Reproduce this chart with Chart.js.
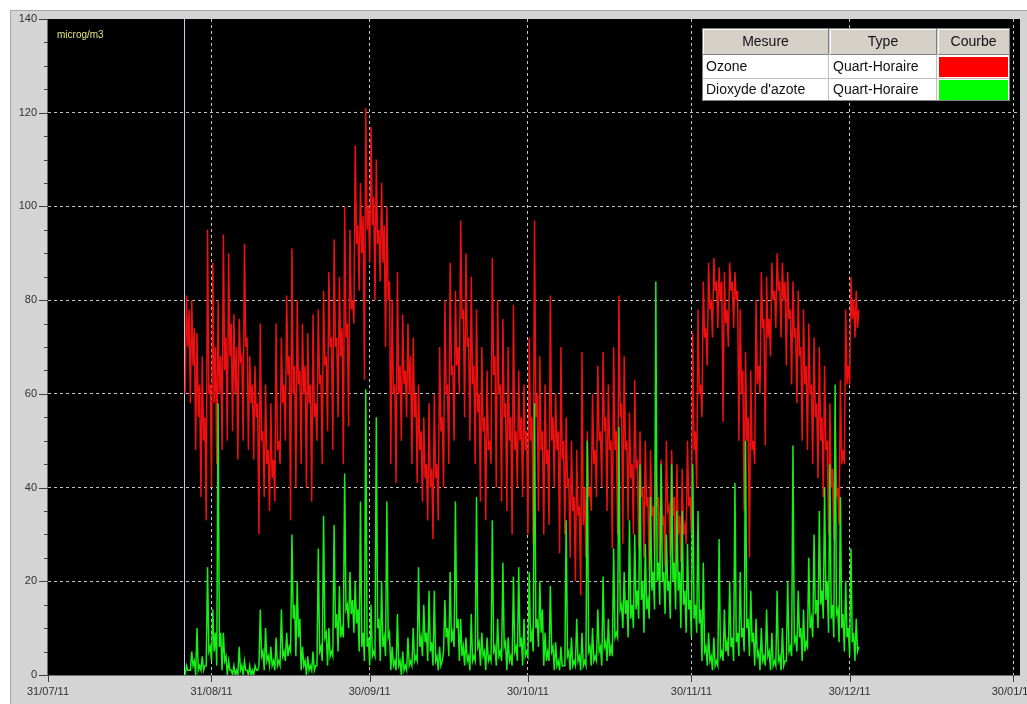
<!DOCTYPE html>
<html><head><meta charset="utf-8">
<script src="https://cdn.jsdelivr.net/npm/chart.js@4.4.1/dist/chart.umd.min.js"></script>
<style>
html,body{margin:0;padding:0;background:#fff;width:1027px;height:704px;overflow:hidden}
#panel{position:absolute;left:10px;top:10px;width:1017px;height:694px;background:#d4d4d4;border-top:1px solid #a8a8a8;border-left:1px solid #a8a8a8;box-sizing:border-box}
#c{position:absolute;left:0;top:0}
</style></head><body>
<div id="panel"></div>
<canvas id="c" width="1027" height="704"></canvas>
<script>
// ---- data ----
const TICK_DAYS = [0, 31, 61, 91, 122, 152, 183];
const TICK_LABELS = ['31/07/11', '31/08/11', '30/09/11', '30/10/11', '30/11/11', '30/12/11', '30/01/12'];
const Y_TICKS = [0, 20, 40, 60, 80, 100, 120, 140];
const UNIT = 'microg/m3';
const LEGEND_HEAD = ['Mesure', 'Type', 'Courbe'];
const SERIES_NAMES = ['Ozone', "Dioxyde d'azote"];
const SERIES_TYPES = ['Quart-Horaire', 'Quart-Horaire'];
const CURSOR_DAY = 25.8;      // days after 31/07/11
const START_DAY = 26;         // first sample, days after 31/07/11
const STEP_DAYS = 0.25;       // sample spacing

const OZONE = [
 60,81,70,78, 58,80,66,74, 48,73,55,62, 38,68,50,55,
 33,95,60,62, 40,88,58,70, 45,80,60,68, 48,94,65,72,
 50,90,68,75, 52,77,60,70, 46,76,67,68, 50,92,70,72,
 48,68,58,62, 46,66,55,58, 30,75,50,52, 38,62,45,48,
 35,58,42,46, 37,75,48,50, 45,72,58,62, 50,81,64,68,
 33,91,60,66, 40,80,62,65, 45,75,60,66, 40,73,58,62,
 37,77,55,58, 50,78,62,64, 45,82,66,68, 52,86,70,72,
 48,93,70,72, 55,85,68,74, 45,100,72,75, 53,95,78,80,
 75,113,92,96, 82,105,90,98, 63,121,95,100, 88,117,96,102,
 80,110,92,95, 84,105,88,96, 70,100,80,84, 45,80,60,62,
 41,86,60,66, 50,77,62,65, 55,75,60,68, 45,72,55,60,
 41,62,48,52, 37,55,42,45, 33,58,40,44, 29,60,42,45,
 33,70,52,55, 40,80,60,62, 45,88,64,66, 50,82,66,70,
 60,97,76,78, 55,90,70,72, 50,85,62,66, 45,78,56,60,
 37,70,52,55, 33,65,48,50, 45,89,64,68, 40,80,60,62,
 37,76,55,58, 35,70,50,55, 30,79,48,52, 40,65,50,55,
 38,62,48,52, 30,72,50,55, 28,97,55,60, 35,68,48,52,
 30,62,45,48, 32,81,50,55, 40,60,48,52, 26,70,46,50,
 30,55,40,42, 25,50,35,38, 20,48,34,36, 17,69,32,40,
 25,52,38,40, 35,60,45,48, 38,66,50,52, 40,69,52,55,
 35,62,48,50, 27,70,48,52, 30,81,55,58, 28,68,48,50,
 33,56,42,45, 30,63,44,46, 27,52,38,40, 25,50,36,38,
 22,48,34,36, 25,51,36,38, 21,46,32,34, 23,50,35,36,
 25,48,34,38, 22,45,30,34, 24,44,30,32, 28,50,36,38,
 30,73,48,52, 40,78,60,62, 55,84,72,74, 66,88,78,80,
 72,89,82,84, 74,87,80,84, 54,86,75,78, 70,88,82,84,
 74,86,80,82, 50,78,60,65, 35,69,50,55, 25,65,48,50,
 45,80,62,66, 60,86,74,76, 49,85,72,76, 68,88,80,82,
 74,90,82,84, 72,88,80,84, 66,86,76,78, 62,84,72,74,
 58,82,68,70, 50,78,62,66, 48,75,60,62, 45,72,55,58,
 42,70,50,55, 38,66,48,50, 30,58,40,44, 29,55,38,40,
 32,63,45,48, 45,78,62,66, 62,85,76,80, 72,82,74,78
];

const NO2 = [
 0,2,1,1, 1,5,2,3, 0,10,1,2, 1,4,1,2,
 2,23,5,6, 3,14,5,9, 2,58,6,9, 1,9,3,4,
 0,3,1,1, 0,2,0,1, 0,6,1,2, 0,3,1,1,
 0,2,0,1, 0,2,1,1, 2,14,4,5, 1,10,3,4,
 2,6,2,3, 1,8,2,3, 2,14,4,5, 3,9,4,6,
 5,30,12,15, 4,20,8,12, 1,6,2,3, 0,4,1,2,
 1,5,1,2, 2,27,5,6, 3,34,8,9, 2,10,4,5,
 4,32,10,13, 5,19,8,10, 8,43,14,15, 10,22,13,16,
 9,20,11,14, 5,37,6,9, 3,61,6,8, 2,15,4,5,
 4,55,10,12, 3,20,6,8, 4,37,8,9, 1,6,2,3,
 1,13,2,3, 0,5,1,2, 1,8,2,3, 2,10,3,4,
 3,23,6,8, 4,15,7,9, 3,18,5,7, 2,18,3,4,
 1,6,2,3, 5,16,8,10, 4,22,7,9, 6,37,10,12,
 3,12,4,6, 2,8,3,4, 1,13,3,4, 3,38,6,7,
 2,9,4,5, 1,8,3,4, 3,33,5,6, 2,12,4,5,
 3,24,6,7, 1,8,3,4, 2,21,5,6, 3,23,6,8,
 2,12,4,5, 4,22,7,9, 5,58,10,12, 6,20,9,14,
 2,9,3,5, 3,19,5,6, 1,7,2,3, 1,6,2,2,
 2,33,4,5, 1,8,2,3, 2,12,3,4, 1,9,2,3,
 2,50,5,6, 2,10,3,4, 3,14,5,6, 2,21,6,7,
 3,12,4,6, 4,27,8,9, 8,53,14,15, 10,22,13,16,
 8,33,12,15, 10,30,14,18, 12,45,16,20, 9,28,14,16,
 12,38,18,22, 14,84,20,24, 15,45,20,22, 13,30,18,20,
 12,45,20,24, 14,35,18,22, 10,35,15,18, 9,28,14,16,
 8,45,12,15, 9,35,11,14, 3,24,5,6, 2,9,3,4,
 1,8,2,3, 2,29,4,5, 3,14,5,7, 4,20,6,8,
 3,41,7,9, 4,22,8,10, 5,50,10,12, 4,18,7,9,
 2,12,4,5, 1,10,3,4, 2,14,4,5, 1,9,2,3,
 2,18,3,4, 1,10,2,3, 3,20,5,6, 4,49,7,8,
 5,18,8,10, 3,14,5,7, 6,25,10,12, 8,30,13,16,
 10,35,15,18, 12,40,16,20, 9,45,12,15, 8,62,13,14,
 7,38,10,13, 5,20,8,10, 4,27,7,9, 3,12,5,6
];

const COLORS = ['#ff0000', '#00ff00'];
const LINE_COLORS = ['#ee1010', '#18ee18'];
const FONT = "'Liberation Sans', Arial, sans-serif";

const toPoints = arr => arr.map((v, i) => ({ x: START_DAY + i * STEP_DAYS, y: v }));

const bgPlugin = {
  id: 'bg',
  beforeDraw(chart) {
    const { ctx, chartArea: a } = chart;
    ctx.save();
    ctx.fillStyle = '#000';
    ctx.fillRect(a.left, a.top, a.right - a.left, a.bottom - a.top);
    ctx.restore();
  },
  beforeDatasetsDraw(chart) {
    const { ctx, chartArea: a, scales } = chart;
    const x = Math.round(scales.x.getPixelForValue(CURSOR_DAY)) + 0.5;
    ctx.save();
    ctx.strokeStyle = '#c4cce4';
    ctx.lineWidth = 1;
    ctx.beginPath(); ctx.moveTo(x, a.top); ctx.lineTo(x, a.bottom); ctx.stroke();
    ctx.restore();
  }
};

const overlayPlugin = {
  id: 'overlay',
  afterDraw(chart) {
    const { ctx, chartArea: a, scales } = chart;
    ctx.save();
    ctx.strokeStyle = '#707070';
    ctx.lineWidth = 1;
    ctx.beginPath();
    ctx.moveTo(a.left - 0.5, a.top); ctx.lineTo(a.left - 0.5, a.bottom + 0.5);
    ctx.lineTo(a.right, a.bottom + 0.5);
    ctx.stroke();
    ctx.strokeStyle = '#404040';
    ctx.beginPath();
    for (let v = 0; v <= 140; v += 5) {
      const y = Math.round(scales.y.getPixelForValue(v)) + 0.5;
      const len = (v % 20 === 0) ? 9 : 4;
      ctx.moveTo(a.left - len, y); ctx.lineTo(a.left, y);
    }
    TICK_DAYS.forEach(d => {
      const x = Math.round(scales.x.getPixelForValue(d)) + 0.5;
      ctx.moveTo(x, a.bottom); ctx.lineTo(x, a.bottom + 7);
    });
    ctx.stroke();

    ctx.fillStyle = '#e0e080';
    ctx.font = '10px ' + FONT;
    ctx.textBaseline = 'middle';
    ctx.textAlign = 'left';
    ctx.fillText(UNIT, a.left + 9, 35);

    const cols = [702, 829, 937, 1010];
    const top = 28, hh = 27, rh = 23;
    const bottom = top + hh + rh * 2;
    ctx.fillStyle = '#d4d0c8';
    ctx.fillRect(cols[0], top, cols[3] - cols[0], hh);
    ctx.fillStyle = '#ffffff';
    ctx.fillRect(cols[0], top + hh, cols[3] - cols[0], rh * 2);
    for (let c = 0; c < 3; c++) {
      const x0 = cols[c], x1 = cols[c + 1];
      ctx.strokeStyle = '#ffffff';
      ctx.beginPath();
      ctx.moveTo(x0 + 1.5, top + hh - 1); ctx.lineTo(x0 + 1.5, top + 1.5); ctx.lineTo(x1 - 1, top + 1.5);
      ctx.stroke();
      ctx.strokeStyle = '#808080';
      ctx.beginPath();
      ctx.moveTo(x1 - 0.5, top + 1); ctx.lineTo(x1 - 0.5, top + hh - 0.5); ctx.lineTo(x0 + 1, top + hh - 0.5);
      ctx.stroke();
    }
    ctx.strokeStyle = '#c0c0c0';
    ctx.beginPath();
    ctx.moveTo(cols[0], top + hh + rh + 0.5); ctx.lineTo(cols[3], top + hh + rh + 0.5);
    ctx.moveTo(cols[1] - 0.5, top + hh); ctx.lineTo(cols[1] - 0.5, bottom);
    ctx.moveTo(cols[2] - 0.5, top + hh); ctx.lineTo(cols[2] - 0.5, bottom);
    ctx.stroke();
    for (let r = 0; r < 2; r++) {
      ctx.fillStyle = COLORS[r];
      ctx.fillRect(cols[2] + 2, top + hh + r * rh + 2, cols[3] - cols[2] - 4, rh - 3);
    }
    ctx.strokeStyle = '#808080';
    ctx.strokeRect(cols[0] + 0.5, top + 0.5, cols[3] - cols[0] - 1, bottom - top - 1);
    ctx.fillStyle = '#111';
    ctx.font = '14px ' + FONT;
    ctx.textAlign = 'center';
    for (let c = 0; c < 3; c++) {
      ctx.fillText(LEGEND_HEAD[c], (cols[c] + cols[c + 1]) / 2, top + hh / 2 + 1);
    }
    ctx.textAlign = 'left';
    for (let r = 0; r < 2; r++) {
      const y = top + hh + r * rh + rh / 2 + 1;
      ctx.fillText(SERIES_NAMES[r], cols[0] + 4, y);
      ctx.fillText(SERIES_TYPES[r], cols[1] + 4, y);
    }
    ctx.restore();
  }
};

const gridColor = c => (c.tick && (c.tick.value === 0 || c.tick.value === 140)) ? 'rgba(0,0,0,0)' : '#c4c4c4';

new Chart(document.getElementById('c'), {
  type: 'line',
  data: {
    datasets: [
      { label: SERIES_NAMES[1], data: toPoints(NO2), borderColor: LINE_COLORS[1], borderWidth: 1.5, pointRadius: 0, order: 0, fill: false },
      { label: SERIES_NAMES[0], data: toPoints(OZONE), borderColor: LINE_COLORS[0], borderWidth: 1.5, pointRadius: 0, order: 1, fill: false }
    ]
  },
  options: {
    responsive: false,
    animation: false,
    devicePixelRatio: 1,
    layout: { padding: { left: 10, top: 19, right: 7, bottom: 0 } },
    plugins: { legend: { display: false }, tooltip: { enabled: false } },
    elements: { line: { tension: 0, borderJoinStyle: 'miter' } },
    scales: {
      x: {
        type: 'linear', min: 0, max: 184.3, z: 1,
        afterBuildTicks: s => { s.ticks = TICK_DAYS.map(v => ({ value: v })); },
        afterFit: s => { s.height = 29; s.paddingLeft = 0; s.paddingRight = 0; },
        ticks: {
          autoSkip: false, maxRotation: 0, minRotation: 0, padding: 10,
          color: '#303030', font: { family: FONT, size: 11 },
          callback: (v, i) => TICK_LABELS[i]
        },
        grid: { color: gridColor, lineWidth: 1, drawTicks: false },
        border: { display: false, dash: [3, 3] }
      },
      y: {
        min: 0, max: 140, z: 1,
        afterBuildTicks: s => { s.ticks = Y_TICKS.map(v => ({ value: v })); },
        afterFit: s => { s.width = 38; s.paddingTop = 0; s.paddingBottom = 0; },
        ticks: { padding: 11, color: '#303030', font: { family: FONT, size: 11 } },
        grid: { color: gridColor, lineWidth: 1, drawTicks: false },
        border: { display: false, dash: [3, 3] }
      }
    }
  },
  plugins: [bgPlugin, overlayPlugin]
});
</script>
</body></html>
